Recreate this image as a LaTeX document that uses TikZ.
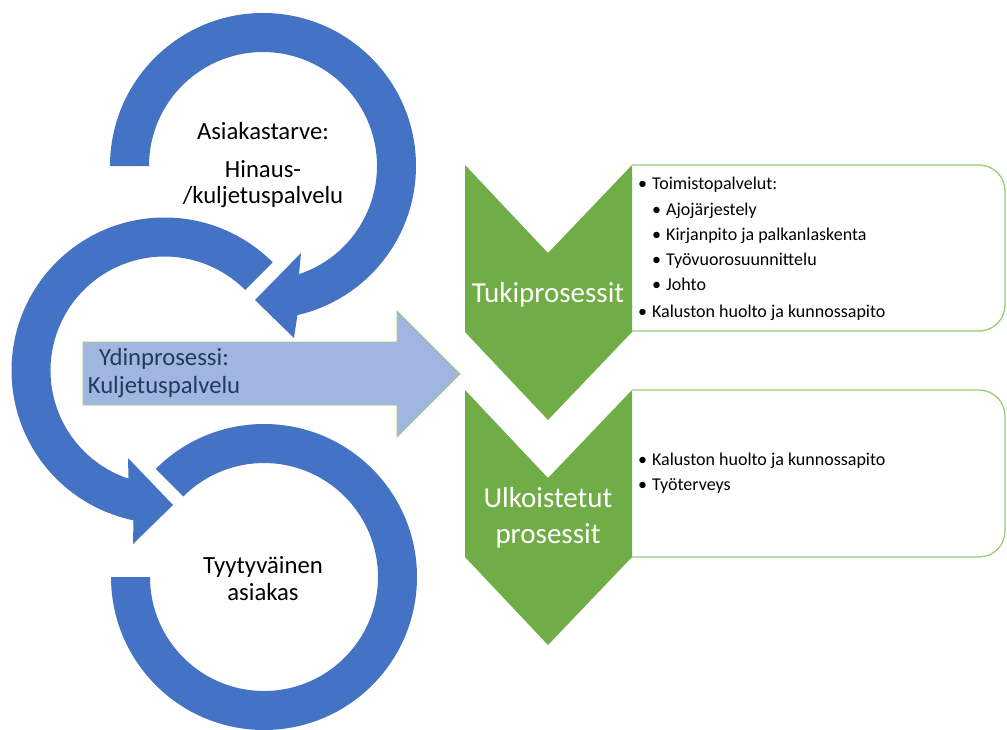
\documentclass[tikz,border=0pt]{standalone}
\usepackage{fontspec}
\setmainfont{Carlito}
\usetikzlibrary{calc}
\definecolor{ringblue}{HTML}{4472C4}
\definecolor{corelight}{HTML}{A0B6E0}
\definecolor{coretext}{HTML}{223A5E}
\definecolor{chevgreen}{HTML}{70AD47}
\definecolor{boxgreen}{HTML}{9BCB7A}
\tikzset{
    ring/.style = {fill=ringblue},
    corearrow/.style = {fill=corelight, draw=boxgreen, line width=0.8pt},
    chevron/.style = {fill=chevgreen},
    listbox/.style = {fill=white, draw=boxgreen, line width=1.3pt},
    ringtext/.style = {anchor=base, inner sep=0pt, font=\fontsize{24.7}{27}\selectfont},
    chevtext/.style = {anchor=base, inner sep=0pt, text=white, font=\fontsize{29}{36}\selectfont},
    bulletline/.style = {anchor=base west, inner sep=0pt, font=\fontsize{18}{22}\selectfont}}

\begin{document}
\begin{tikzpicture}[x=1pt,y=1pt]
        \useasboundingbox (0,0) rectangle (1007,-729);
        % centres of the three rings
        \coordinate (c1) at (263,-166);
        \coordinate (c2) at (164.5,-370.5);
        \coordinate (c3) at (264,-577);
        % rings
        \fill[ring] ($(c1)+(180:153)$) arc[start angle=180,end angle=-77,radius=153]
            -- (294,-338) -- (255,-300) -- (301,-253)
            -- ($(c1)+(-71.6:114)$) arc[start angle=-71.6,end angle=180,radius=114] -- cycle;
        \fill[ring] ($(c2)+(45:153)$) arc[start angle=45,end angle=258.3,radius=153]
            -- (133,-544) -- (173,-505) -- (128,-458)
            -- ($(c2)+(251.6:114)$) arc[start angle=251.6,end angle=45,radius=114] -- cycle;
        \fill[ring] ($(c3)+(135:153)$) arc[start angle=135,end angle=-180,radius=153]
            -- ($(c3)+(180:114)$) arc[start angle=-180,end angle=135,radius=114] -- cycle;
        \node[ringtext] (need1) at (263,-139) {Asiakastarve:};
        \node[ringtext] (need2) at (263,-177) {Hinaus-};
        \node[ringtext] (need3) at (263,-203) {/kuljetuspalvelu};
        \node[ringtext] (happy1) at (263,-573) {Tyytyväinen};
        \node[ringtext] (happy2) at (263,-600) {asiakas};
        % core process arrow
        \draw[corearrow] (83,-342) -- (397,-342) -- (397,-311) -- (460,-374)
            -- (397,-437) -- (397,-405) -- (83,-405) -- cycle;
        \node[ringtext, text=coretext] (core1) at (164,-365) {Ydinprosessi:};
        \node[ringtext, text=coretext] (core2) at (164,-393) {Kuljetuspalvelu};
        % boxes
        \draw[listbox] (632,-165) -- (979,-165) arc[start angle=90,end angle=0,radius=26]
            -- (1005,-305) arc[start angle=0,end angle=-90,radius=26] -- (632,-331);
        \draw[listbox] (632,-390) -- (979,-390) arc[start angle=90,end angle=0,radius=26]
            -- (1005,-531) arc[start angle=0,end angle=-90,radius=26] -- (632,-557);
        % chevrons
        \fill[chevron] (465,-165) -- (548,-253) -- (632,-165) -- (632,-332)
            -- (548,-420) -- (465,-332) -- cycle;
        \fill[chevron] (465,-390) -- (548,-478) -- (632,-390) -- (632,-557)
            -- (548,-645) -- (465,-557) -- cycle;
        \node[chevtext] (tuki) at (548,-302) {Tukiprosessit};
        \node[chevtext] (ulko1) at (548,-507) {Ulkoistetut};
        \node[chevtext] (ulko2) at (548,-543) {prosessit};
        % list texts
        \path (638,-189) node[bulletline] (tp1) {•\hspace{5pt}Toimistopalvelut:}
        ++ (14,-26) node[bulletline] (tp2) {•\hspace{5pt}Ajojärjestely}
        ++ (0,-25) node[bulletline] (tp3) {•\hspace{5pt}Kirjanpito ja palkanlaskenta}
        ++ (0,-25) node[bulletline] (tp4) {•\hspace{5pt}Työvuorosuunnittelu}
        ++ (0,-25) node[bulletline] (tp5) {•\hspace{5pt}Johto}
        ++ (-14,-27) node[bulletline] (tp6) {•\hspace{5pt}Kaluston huolto ja kunnossapito};
        \path (638,-465) node[bulletline] (up1) {•\hspace{5pt}Kaluston huolto ja kunnossapito}
        ++ (0,-25) node[bulletline] (up2) {•\hspace{5pt}Työterveys};
\end{tikzpicture}
\end{document}
